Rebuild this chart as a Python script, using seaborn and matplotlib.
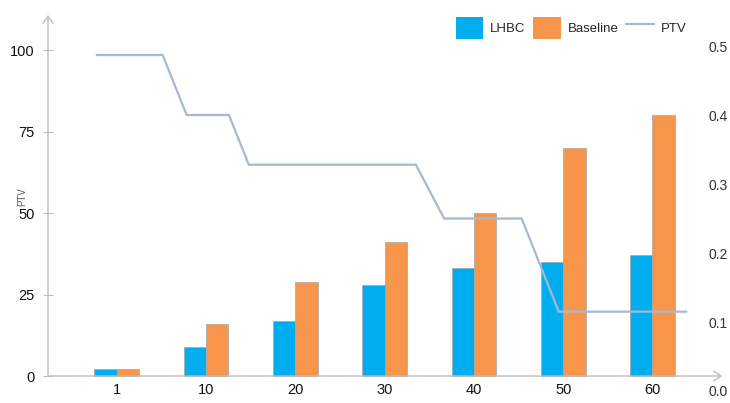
import matplotlib
matplotlib.use("Agg")
import matplotlib.pyplot as plt
from matplotlib.patches import Patch
from matplotlib.lines import Line2D
from matplotlib.ticker import FormatStrFormatter
import numpy as np
import pandas as pd
import seaborn as sns

# ---- data -------------------------------------------------------------
categories = ["1", "10", "20", "30", "40", "50", "60"]
lhbc = [2, 9, 17, 28, 33, 35, 37]
baseline = [2, 16, 29, 41, 50, 70, 80]

# PTV step curve (position along the category axis, right-axis value)
ptv_pos = [-0.224, 0.515, 0.784, 1.257, 1.48, 3.35, 3.667, 4.535, 4.95, 6.38]
ptv_val = [0.487, 0.487, 0.40, 0.40, 0.328, 0.328, 0.25, 0.25, 0.115, 0.115]

left_ticks = [0, 25, 50, 75, 100]
right_ticks = [0.0, 0.1, 0.2, 0.3, 0.4, 0.5]

# ---- style ------------------------------------------------------------
sns.set_style("white")
plt.rcParams["font.family"] = ["Liberation Sans", "DejaVu Sans"]

blue = "#00aeef"
orange = "#f7964a"
line_col = "#a9b7d4"
axis_col = "#bdbdbd"

df = pd.DataFrame({
    "dose": categories * 2,
    "value": lhbc + baseline,
    "series": ["LHBC"] * len(categories) + ["Baseline"] * len(categories),
})

fig = plt.figure(figsize=(7.30, 4.03), dpi=100)
ax = fig.add_axes([48 / 730, 12 / 403, 652 / 730, 376 / 403])

sns.barplot(data=df, x="dose", y="value", hue="series", order=categories,
            hue_order=["LHBC", "Baseline"], palette=[blue, orange],
            width=0.5, gap=0, edgecolor="#a5a5a5", linewidth=0.5,
            saturation=1, ax=ax, legend=False)

x_lo, x_hi = -0.769, 6.532
ax.set_xlim(x_lo, x_hi)
ax.set_ylim(-4.6, 110.8)
ax.set_yticks(left_ticks)
ax.set_xlabel("")
ax.set_ylabel("")
for s in ax.spines.values():
    s.set_visible(False)

ax.tick_params(axis="y", direction="inout", length=7, width=0.8,
               color=axis_col, labelsize=10.5, pad=6)
ax.tick_params(axis="x", length=0, labelsize=10.5, pad=-6)
for lab in ax.get_yticklabels() + ax.get_xticklabels():
    lab.set_color("#111111")

# axis lines with open arrow heads
arrow = dict(arrowstyle="->,head_length=0.5,head_width=0.35",
             color=axis_col, lw=1.0, shrinkA=0, shrinkB=0)
ax.annotate("", xy=(x_lo, 110.8), xytext=(x_lo, 0), arrowprops=arrow,
            annotation_clip=False)
ax.annotate("", xy=(6.78, 0), xytext=(x_lo, 0), arrowprops=arrow,
            annotation_clip=False)

# PTV curve on the secondary axis
ax2 = ax.twinx()
sns.lineplot(x=ptv_pos, y=ptv_val, color=line_col, linewidth=1.6,
             sort=False, ax=ax2)
ax2.set_ylim(0, 0.545)
ax2.set_xlim(x_lo, x_hi)
ax2.set_yticks(right_ticks)
ax2.yaxis.set_major_formatter(FormatStrFormatter("%.1f"))
ax2.tick_params(axis="y", length=0, labelsize=10, pad=6, labelcolor="#333333")
for s in ax2.spines.values():
    s.set_visible(False)

fig.text(22 / 730, 1 - 197 / 403, "PTV", rotation=90, fontsize=7,
         color="#555555", ha="center", va="center")

handles = [Patch(facecolor=blue, edgecolor="none"),
           Patch(facecolor=orange, edgecolor="none"),
           Line2D([], [], color=line_col, linewidth=1.6)]
fig.legend(handles, ["LHBC", "Baseline", "PTV"], ncol=3, frameon=False,
           loc="center", bbox_to_anchor=(571 / 730, 1 - 28 / 403),
           handlelength=2.1, handleheight=2.3, handletextpad=0.5,
           columnspacing=0.6, prop={"size": 9.5})

fig.savefig("out.png", dpi=100)
